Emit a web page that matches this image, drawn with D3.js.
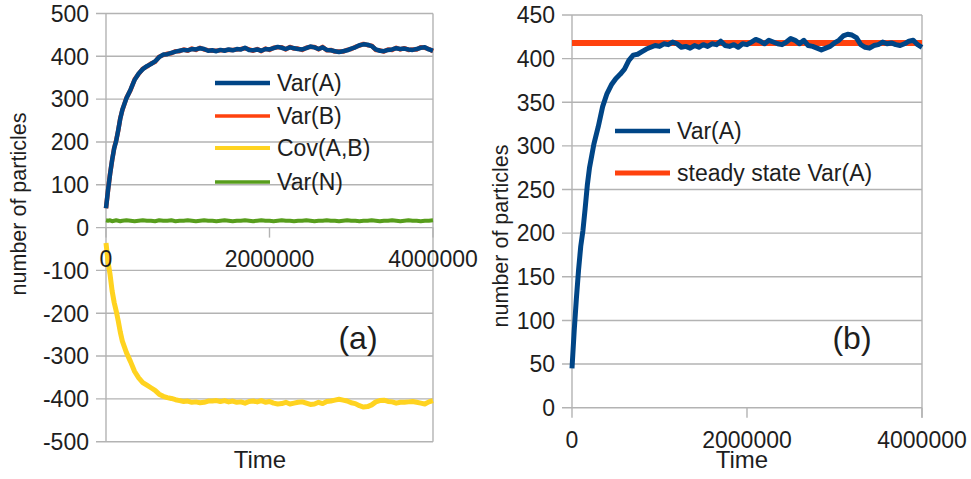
<!DOCTYPE html>
<html>
<head>
<meta charset="utf-8">
<script src="https://cdn.jsdelivr.net/npm/d3@7"></script>
<style>
  html, body { margin: 0; padding: 0; background: #fff; }
  svg { display: block; font-family: "Liberation Sans", Arial, sans-serif; }
  text { fill: #1e1e1e; }
</style>
</head>
<body>
<svg id="chart" width="971" height="479"></svg>
<script>
// Sampling times of the simulation
const times = [0, 25000, 50000, 75000, 100000, 125000, 150000, 175000, 200000,
  250000, 300000, 350000, 400000, 450000, 500000, 550000, 600000, 650000, 700000,
  750000, 800000, 850000, 900000, 950000, 1000000,
  1050000, 1100000, 1150000, 1200000, 1250000, 1300000, 1350000, 1400000, 1450000, 1500000,
  1550000, 1600000, 1650000, 1700000, 1750000, 1800000, 1850000, 1900000, 1950000, 2000000,
  2050000, 2100000, 2150000, 2200000, 2250000, 2300000, 2350000, 2400000, 2450000, 2500000,
  2550000, 2600000, 2650000, 2700000, 2750000, 2800000, 2850000, 2900000, 2950000, 3000000,
  3050000, 3100000, 3150000, 3200000, 3250000, 3300000, 3350000, 3400000, 3450000, 3500000,
  3550000, 3600000, 3650000, 3700000, 3750000, 3800000, 3850000, 3900000, 3950000, 4000000];

const varA = [45, 88, 125, 158, 185, 203, 228, 255, 275,
  302, 322, 345, 360, 370, 377, 382, 388, 398, 404,
  405, 408, 411, 413, 415, 414,
  417, 416, 419, 417, 413, 414, 412, 415, 413, 416,
  414, 417, 416, 420, 415, 414, 416, 413, 417, 416,
  419, 422, 420, 417, 421, 419, 417, 416, 419, 423,
  421, 417, 421, 415, 414, 412, 410, 412, 414, 418,
  421, 426, 428, 427, 424, 416, 413, 412, 415, 416,
  419, 417, 418, 416, 415, 417, 420, 421, 416, 413];

const varB = [45, 87, 126, 157, 186, 204, 227, 256, 274,
  303, 321, 346, 359, 371, 376, 383, 387, 399, 403,
  406, 407, 412, 412, 416, 413,
  418, 415, 420, 416, 414, 413, 413, 414, 414, 415,
  415, 416, 417, 419, 416, 413, 417, 412, 418, 415,
  420, 421, 421, 416, 422, 418, 418, 415, 420, 422,
  422, 416, 422, 414, 415, 411, 411, 411, 415, 417,
  422, 425, 429, 426, 425, 415, 414, 411, 416, 415,
  420, 416, 419, 415, 416, 416, 421, 420, 417, 412];

const covAB = [-36, -80, -110, -148, -175, -195, -218, -244, -265,
  -292, -313, -336, -351, -362, -368, -374, -380, -389, -394,
  -397, -399, -402, -404, -406, -405,
  -408, -407, -409, -408, -405, -405, -404, -406, -404, -407,
  -405, -408, -407, -410, -406, -405, -407, -404, -408, -406,
  -410, -412, -411, -408, -412, -410, -408, -407, -410, -413,
  -412, -408, -411, -406, -405, -403, -401, -403, -405, -409,
  -411, -416, -419, -418, -414, -407, -404, -403, -406, -407,
  -410, -408, -408, -407, -406, -408, -410, -412, -407, -404];

const varN = [17, 16, 17, 15, 16, 17, 16, 15, 16,
  17, 16, 15, 16, 17, 16, 16, 15, 17, 16,
  16, 17, 15, 16, 16, 17,
  16, 15, 16, 17, 16, 16, 15, 16, 17, 16,
  15, 16, 16, 17, 16, 15, 16, 17, 16, 16,
  15, 16, 17, 16, 16, 15, 16, 16, 17, 16,
  15, 16, 16, 17, 16, 16, 15, 16, 17, 16,
  16, 15, 16, 16, 17, 16, 15, 16, 16, 17,
  16, 15, 16, 17, 16, 16, 15, 16, 16, 17];

// Analytical steady-state value of Var(A)
const steadyTimes = [0, 4000000];
const steadyVarA = [418, 418];

const xTicks = [0, 2000000, 4000000];
const yTicksA = [-500, -400, -300, -200, -100, 0, 100, 200, 300, 400, 500];
const yTicksB = [0, 50, 100, 150, 200, 250, 300, 350, 400, 450];

const legendA = ["Var(A)", "Var(B)", "Cov(A,B)", "Var(N)"];
const legendB = ["Var(A)", "steady state Var(A)"];

const colors = { blue: "#004586", orange: "#ff420e", yellow: "#ffd320", green: "#579d1c" };
const gridColor = "#b3b3b3";
const fs = 23;

const svg = d3.select("#chart");

function zip(xs, ys) { return xs.map((t, i) => [t, ys[i]]); }

function drawPanel(cfg) {
  const g = svg.append("g");
  const x = d3.scaleLinear().domain([0, 4000000]).range([cfg.left, cfg.right]);
  const y = d3.scaleLinear().domain(cfg.yDomain).range([cfg.bottom, cfg.top]);

  // horizontal grid lines with outward ticks
  g.selectAll(".hgrid").data(cfg.yTicks).enter().append("line")
    .attr("x1", cfg.left - 10).attr("x2", cfg.right)
    .attr("y1", d => y(d)).attr("y2", d => y(d))
    .attr("stroke", gridColor).attr("stroke-width", 1.4);

  // left axis line and right border
  g.append("line").attr("x1", cfg.left).attr("x2", cfg.left)
    .attr("y1", cfg.top).attr("y2", cfg.bottom)
    .attr("stroke", gridColor).attr("stroke-width", 1.4);
  g.append("line").attr("x1", cfg.right).attr("x2", cfg.right)
    .attr("y1", cfg.top).attr("y2", Math.max(cfg.bottom, y(cfg.xAxisAt) + 10))
    .attr("stroke", gridColor).attr("stroke-width", 1.4);

  // x axis ticks at the crossing value
  const y0 = y(cfg.xAxisAt);
  g.selectAll(".xtick").data(xTicks).enter().append("line")
    .attr("x1", d => x(d)).attr("x2", d => x(d))
    .attr("y1", y0).attr("y2", y0 + 10)
    .attr("stroke", gridColor).attr("stroke-width", 1.4);

  // y tick labels
  g.selectAll(".ylab").data(cfg.yTicks).enter().append("text")
    .attr("x", cfg.left - 17).attr("y", d => y(d))
    .attr("dy", "0.36em").attr("text-anchor", "end")
    .attr("font-size", fs).text(d => d);

  // series
  const line = d3.line().x(d => x(d[0])).y(d => y(d[1]));
  cfg.series.forEach(s => {
    g.append("path").datum(zip(s.t, s.v))
      .attr("d", line).attr("fill", "none")
      .attr("stroke", s.color).attr("stroke-width", s.width)
      .attr("stroke-linejoin", "round").attr("stroke-linecap", "butt");
  });

  // x tick labels
  g.selectAll(".xlab").data(xTicks).enter().append("text")
    .attr("x", d => x(d)).attr("y", cfg.xLabelBaseline)
    .attr("text-anchor", "middle").attr("font-size", fs)
    .text(d => d);

  // axis titles
  g.append("text").attr("x", cfg.timeX).attr("y", 468)
    .attr("text-anchor", "middle").attr("font-size", 24).text("Time");
  g.append("text")
    .attr("transform", `translate(${cfg.yTitleX},${cfg.yTitleY}) rotate(-90)`)
    .attr("text-anchor", "middle").attr("dy", "0.35em")
    .attr("font-size", 21.5).text("number of particles");

  // legend
  cfg.legend.forEach((name, i) => {
    const ly = cfg.legendY[i];
    g.append("line").attr("x1", cfg.legendX).attr("x2", cfg.legendX + 55)
      .attr("y1", ly).attr("y2", ly)
      .attr("stroke", cfg.legendColors[i]).attr("stroke-width", cfg.legendWidths[i]);
    g.append("text").attr("x", cfg.legendX + 62).attr("y", ly)
      .attr("dy", "0.36em").attr("font-size", fs).text(name);
  });

  // panel tag
  g.append("text").attr("x", cfg.tagX).attr("y", cfg.tagY)
    .attr("text-anchor", "middle").attr("dy", "0.35em")
    .attr("font-size", 32).text(cfg.tag);
}

drawPanel({
  left: 106, right: 433, top: 13.5, bottom: 441.7,
  yDomain: [-500, 500], yTicks: yTicksA, xAxisAt: 0,
  xLabelBaseline: 267, timeX: 260, yTitleX: 18, yTitleY: 204,
  series: [
    { t: times, v: varN, color: colors.green, width: 4 },
    { t: times, v: covAB, color: colors.yellow, width: 5 },
    { t: times, v: varB, color: colors.orange, width: 4.5 },
    { t: times, v: varA, color: colors.blue, width: 4.5 }
  ],
  legend: legendA, legendX: 215, legendY: [83, 116, 148, 182],
  legendColors: [colors.blue, colors.orange, colors.yellow, colors.green],
  legendWidths: [4.5, 3.5, 4, 3.5],
  tag: "(a)", tagX: 358, tagY: 338
});

drawPanel({
  left: 572, right: 922, top: 15, bottom: 407.7,
  yDomain: [0, 450], yTicks: yTicksB, xAxisAt: 0,
  xLabelBaseline: 448, timeX: 742, yTitleX: 500, yTitleY: 236,
  series: [
    { t: steadyTimes, v: steadyVarA, color: colors.orange, width: 6 },
    { t: times, v: varA, color: colors.blue, width: 5 }
  ],
  legend: legendB, legendX: 615, legendY: [131, 173],
  legendColors: [colors.blue, colors.orange],
  legendWidths: [4.5, 5],
  tag: "(b)", tagX: 852, tagY: 338
});
</script>
</body>
</html>
